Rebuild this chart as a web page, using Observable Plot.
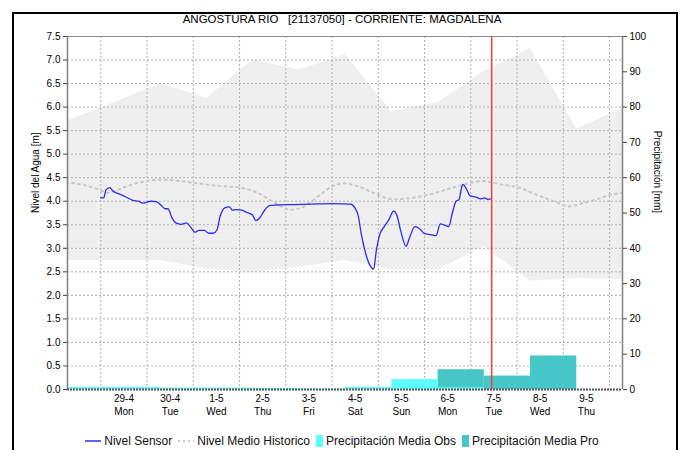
<!DOCTYPE html>
<html><head><meta charset="utf-8">
<script src="https://cdn.jsdelivr.net/npm/d3@7"></script>
<script src="https://cdn.jsdelivr.net/npm/@observablehq/plot@0.6"></script>
<style>
body{margin:0;background:#fff;font-family:"Liberation Sans",Arial,sans-serif;}
#wrap{position:relative;width:684px;height:450px;overflow:hidden;background:#fff;}
#frame{position:absolute;left:12px;top:12px;width:662px;height:460px;border:2px solid #000;pointer-events:none;}
#title{height:30px;box-sizing:border-box;padding-top:13px;text-align:center;font-size:11.5px;line-height:12px;white-space:pre;color:#000;}
#chart svg{display:block;}
#legend{height:25px;box-sizing:border-box;padding-top:7px;display:flex;justify-content:center;align-items:center;font-size:12px;line-height:13px;color:#111;white-space:nowrap;}
#legend .it{display:flex;align-items:center;margin:0 3px;}
#legend svg{margin-right:3px;}
</style></head>
<body><div id="wrap"><div id="title"></div><div id="chart"></div><div id="legend"></div><div id="frame"></div></div>
<script>
const titleText = "ANGOSTURA RIO   [21137050] - CORRIENTE: MAGDALENA";
const leftTitle = "Nivel del Agua [m]";
const rightTitle = "Precipitación [mm]";
const seriesNames = ["Nivel Sensor", "Nivel Medio Historico", "Precipitación Media Obs", "Precipitación Media Pro"];

const dayTicks = ["2024-04-29","2024-04-30","2024-05-01","2024-05-02","2024-05-03","2024-05-04","2024-05-05","2024-05-06","2024-05-07","2024-05-08","2024-05-09"];
const levelTicks = [0,0.5,1,1.5,2,2.5,3,3.5,4,4.5,5,5.5,6,6.5,7,7.5];
const precipTicks = [0,10,20,30,40,50,60,70,80,90,100];
const nowTime = "2024-05-06T22:50";

const sensorTime = ["2024-04-28T12:00","2024-04-28T13:30","2024-04-28T14:40","2024-04-28T16:35","2024-04-28T18:25","2024-04-28T21:10","2024-04-29T01:00","2024-04-29T04:35","2024-04-29T07:25","2024-04-29T10:05","2024-04-29T13:55","2024-04-29T16:40","2024-04-29T19:25","2024-04-29T21:20","2024-04-29T22:50","2024-04-30T01:00","2024-04-30T02:55","2024-04-30T05:40","2024-04-30T08:25","2024-04-30T10:35","2024-04-30T13:00","2024-04-30T14:55","2024-04-30T17:50","2024-04-30T19:55","2024-04-30T22:20","2024-05-01T00:15","2024-05-01T01:55","2024-05-01T04:20","2024-05-01T06:40","2024-05-01T08:25","2024-05-01T10:20","2024-05-01T13:10","2024-05-01T15:50","2024-05-01T18:40","2024-05-01T20:25","2024-05-01T22:20","2024-05-02T01:10","2024-05-02T03:50","2024-05-02T06:40","2024-05-02T16:00","2024-05-03T01:10","2024-05-03T12:15","2024-05-03T21:35","2024-05-03T23:50","2024-05-04T01:40","2024-05-04T03:05","2024-05-04T05:00","2024-05-04T07:10","2024-05-04T09:35","2024-05-04T11:00","2024-05-04T12:45","2024-05-04T15:05","2024-05-04T17:30","2024-05-04T19:55","2024-05-04T21:35","2024-05-04T23:30","2024-05-05T02:25","2024-05-05T04:05","2024-05-05T07:00","2024-05-05T09:35","2024-05-05T12:00","2024-05-05T15:20","2024-05-05T18:00","2024-05-05T20:10","2024-05-05T22:05","2024-05-06T00:30","2024-05-06T02:25","2024-05-06T04:20","2024-05-06T06:00","2024-05-06T07:00","2024-05-06T07:55","2024-05-06T09:50","2024-05-06T11:30","2024-05-06T14:25","2024-05-06T17:20","2024-05-06T19:00","2024-05-06T20:55","2024-05-06T22:20"];
const sensorLevel = [4.07,4.07,4.24,4.29,4.21,4.16,4.09,4.02,4.00,3.96,4.00,3.99,3.91,3.84,3.84,3.64,3.54,3.51,3.54,3.45,3.34,3.38,3.38,3.32,3.32,3.39,3.68,3.86,3.88,3.81,3.82,3.81,3.76,3.71,3.59,3.64,3.82,3.91,3.92,3.93,3.94,3.95,3.94,3.86,3.68,3.32,2.96,2.68,2.56,2.96,3.29,3.46,3.61,3.79,3.71,3.39,3.04,3.21,3.46,3.41,3.31,3.29,3.27,3.52,3.50,3.46,3.75,4.00,4.04,4.25,4.36,4.25,4.12,4.09,4.05,4.07,4.04,4.05];

const histTime = ["2024-04-27T18:00","2024-04-27T21:00","2024-04-28T03:35","2024-04-28T10:05","2024-04-28T15:35","2024-04-28T21:10","2024-04-29T04:35","2024-04-29T12:00","2024-04-29T19:25","2024-04-30T04:50","2024-04-30T17:50","2024-05-01T02:50","2024-05-01T12:15","2024-05-01T21:20","2024-05-02T06:40","2024-05-02T14:10","2024-05-02T21:35","2024-05-03T05:05","2024-05-03T12:15","2024-05-03T18:00","2024-05-04T01:10","2024-05-04T10:35","2024-05-04T19:55","2024-05-05T05:00","2024-05-05T14:25","2024-05-05T23:30","2024-05-06T08:50","2024-05-06T18:00","2024-05-07T03:20","2024-05-07T12:45","2024-05-07T21:50","2024-05-08T07:10","2024-05-08T14:40","2024-05-08T22:05","2024-05-09T05:15","2024-05-09T12:45","2024-05-09T19:00"];
const histLevel = [4.40,4.39,4.34,4.26,4.18,4.25,4.36,4.43,4.46,4.43,4.36,4.32,4.29,4.18,3.96,3.82,3.89,4.11,4.32,4.38,4.32,4.16,4.04,4.07,4.14,4.25,4.36,4.43,4.36,4.29,4.14,4.00,3.89,3.96,4.04,4.14,4.18];

const bandTime = ["2024-04-27T19:00","2024-04-28T19:00","2024-04-29T19:00","2024-04-30T19:00","2024-05-01T19:00","2024-05-02T19:00","2024-05-03T19:00","2024-05-04T19:00","2024-05-05T19:00","2024-05-06T19:00","2024-05-07T19:00","2024-05-08T19:00","2024-05-09T19:00"];
const bandHigh = [5.71,6.10,6.50,6.19,7.01,6.79,7.12,5.90,6.10,6.76,7.24,5.53,5.98];
const bandLow  = [2.74,2.74,2.74,2.56,2.48,2.60,2.74,2.54,2.54,3.04,2.30,2.36,2.33];

const obsStart = ["2024-04-27T19:00","2024-04-28T19:00","2024-04-29T19:00","2024-04-30T19:00","2024-05-01T19:00","2024-05-02T19:00","2024-05-03T19:00","2024-05-04T19:00","2024-05-05T19:00"];
const obsMm = [0.6,0.6,0.4,0.4,0.3,0.2,0.6,2.8,0.5];
const proStart = ["2024-05-05T19:00","2024-05-06T19:00","2024-05-07T19:00"];
const proMm = [5.6,3.8,9.5];

const parse = d3.utcParse("%Y-%m-%dT%H:%M");
const parseDay = d3.utcParse("%Y-%m-%d");
const mmToLevel = mm => mm * 7.5 / 100;

const sensor = sensorTime.map((t,i)=>({t:parse(t), v:sensorLevel[i]}));
const hist = histTime.map((t,i)=>({t:parse(t), v:histLevel[i]}));
const band = bandTime.map((t,i)=>({t:parse(t), lo:bandLow[i], hi:bandHigh[i]}));
const obs = obsStart.map((t,i)=>({t:parse(t), mm:obsMm[i]}));
const pro = proStart.map((t,i)=>({t:parse(t), mm:proMm[i]}));
const days = dayTicks.map(parseDay);
const gridTimes = [d3.utcHour.offset(days[0], -12), ...days.map(d=>d3.utcHour.offset(d,12))];
const xDomain = [parse("2024-04-27T18:43"), parse("2024-05-09T18:43")];
const fmtDay = d3.utcFormat("%-d-%-m"), fmtWd = d3.utcFormat("%a");

document.getElementById("title").textContent = titleText;

const chart = Plot.plot({
  width: 684, height: 395,
  marginTop: 6, marginBottom: 36, marginLeft: 67, marginRight: 62,
  style: {fontFamily: '"Liberation Sans", Arial, sans-serif', fontSize: "10px", background: "transparent", color: "#000"},
  x: {type: "utc", domain: xDomain, axis: null},
  y: {domain: [0, 7.5], axis: null},
  marks: [
    Plot.areaY(band, {x: "t", y1: "lo", y2: "hi", fill: "#efefef", clip: true}),
    Plot.gridY({ticks: levelTicks.slice(1, -1), stroke: "#b0b0b0", strokeOpacity: 1, strokeDasharray: "2,2"}),
    Plot.gridX({ticks: gridTimes, stroke: "#b0b0b0", strokeOpacity: 1, strokeDasharray: "2,2"}),
    Plot.line(hist, {x: "t", y: "v", stroke: "#c8c8c8", strokeWidth: 2, strokeDasharray: "2,4", curve: "monotone-x", clip: true}),
    Plot.rect(pro, {x1: "t", x2: d => d3.utcDay.offset(d.t, 1), y1: () => 0, y2: d => mmToLevel(d.mm), fill: "#46c6c6", clip: true}),
    Plot.rect(obs, {x1: "t", x2: d => d3.utcDay.offset(d.t, 1), y1: () => 0, y2: d => mmToLevel(d.mm), fill: "#5cffff", clip: true}),
    Plot.line(sensor, {x: "t", y: "v", stroke: "#2b2bf2", strokeWidth: 1.3, curve: "monotone-x"}),
    Plot.ruleX([parse(nowTime)], {stroke: "#ff3a3a", strokeWidth: 1.5}),
    Plot.ruleY([7.5], {stroke: "#8a8a8a", strokeWidth: 1}),
    Plot.ruleX([xDomain[0]], {stroke: "#808080", strokeWidth: 1.5}),
    Plot.ruleX([xDomain[1]], {stroke: "#808080", strokeWidth: 1.5}),
    Plot.ruleY([0], {stroke: "#555", strokeWidth: 2, strokeDasharray: "2,1"}),
    Plot.axisY({anchor: "left", ticks: levelTicks, tickFormat: d3.format(".1f"), tickSize: 4, tickPadding: 3, label: null, stroke: "#444"}),
    Plot.axisY({anchor: "right", ticks: precipTicks.map(mmToLevel), tickFormat: v => String(Math.round(v * 100 / 7.5)), tickSize: 4, tickPadding: 3, label: null, stroke: "#444"}),
    Plot.axisX({ticks: days, tickFormat: d => fmtDay(d) + "\n" + fmtWd(d), tickSize: 0, tickPadding: 4, lineHeight: 1.25, label: null}),
    Plot.text([leftTitle], {text: d => d, frameAnchor: "left", dx: -32, rotate: -90, fontSize: 10}),
    Plot.text([rightTitle], {text: d => d, frameAnchor: "right", dx: 35, rotate: 90, fontSize: 10})
  ]
});
document.getElementById("chart").appendChild(chart);

const sw = [
  '<svg width="16" height="10"><line x1="0" y1="5" x2="16" y2="5" stroke="#2b2bf2" stroke-width="1.5"/></svg>',
  '<svg width="16" height="10"><line x1="0" y1="5" x2="16" y2="5" stroke="#c8c8c8" stroke-width="2" stroke-dasharray="2,3"/></svg>',
  '<svg width="7" height="12"><rect x="0" y="0" width="7" height="12" fill="#5cffff"/></svg>',
  '<svg width="7" height="12"><rect x="0" y="0" width="7" height="12" fill="#46c6c6"/></svg>'
];
document.getElementById("legend").innerHTML = seriesNames.map((n,i)=>`<span class="it">${sw[i]}<span>${n}</span></span>`).join("");
</script>
</body></html>
